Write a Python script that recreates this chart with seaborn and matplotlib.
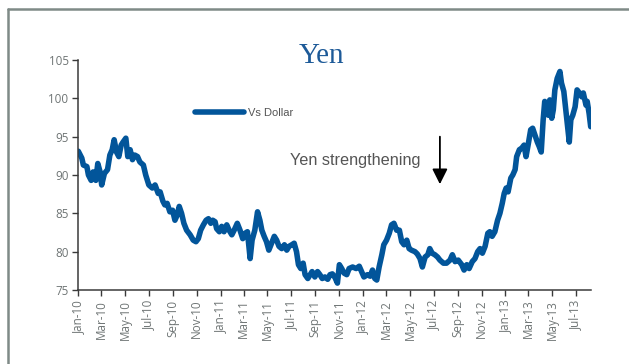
import matplotlib
matplotlib.use("Agg")
import matplotlib.pyplot as plt
import matplotlib.dates as mdates
from matplotlib.lines import Line2D
import pandas as pd
import seaborn as sns

# USD/JPY, yen per dollar
dates = [
    "2010-01-01", "2010-01-10", "2010-01-14", "2010-01-23", "2010-01-27", "2010-02-03",
    "2010-02-08", "2010-02-15", "2010-02-20", "2010-02-26", "2010-03-02", "2010-03-09",
    "2010-03-17", "2010-03-23", "2010-03-29", "2010-04-03", "2010-04-09", "2010-04-15",
    "2010-04-21", "2010-04-26", "2010-05-03", "2010-05-08", "2010-05-14", "2010-05-20",
    "2010-05-26", "2010-06-02", "2010-06-08", "2010-06-17", "2010-06-23", "2010-07-01",
    "2010-07-10", "2010-07-17", "2010-07-25", "2010-07-30", "2010-08-06", "2010-08-11",
    "2010-08-17", "2010-08-24", "2010-08-31", "2010-09-06", "2010-09-12", "2010-09-17",
    "2010-09-23", "2010-09-29", "2010-10-06", "2010-10-15", "2010-10-23", "2010-10-30",
    "2010-11-05", "2010-11-11", "2010-11-18", "2010-11-25", "2010-12-01", "2010-12-07",
    "2010-12-12", "2010-12-18", "2010-12-22", "2010-12-29", "2011-01-04", "2011-01-10",
    "2011-01-17", "2011-01-23", "2011-01-30", "2011-02-05", "2011-02-13", "2011-02-20",
    "2011-02-27", "2011-03-05", "2011-03-11", "2011-03-18", "2011-03-23", "2011-03-30",
    "2011-04-06", "2011-04-12", "2011-04-17", "2011-04-23", "2011-04-29", "2011-05-05",
    "2011-05-12", "2011-05-19", "2011-05-25", "2011-05-31", "2011-06-07", "2011-06-14",
    "2011-06-20", "2011-06-26", "2011-07-03", "2011-07-09", "2011-07-15", "2011-07-20",
    "2011-07-26", "2011-08-01", "2011-08-06", "2011-08-13", "2011-08-19", "2011-08-24",
    "2011-08-31", "2011-09-07", "2011-09-13", "2011-09-19", "2011-09-26", "2011-10-03",
    "2011-10-09", "2011-10-15", "2011-10-22", "2011-10-28", "2011-11-02", "2011-11-08",
    "2011-11-14", "2011-11-21", "2011-11-27", "2011-12-06", "2011-12-15", "2011-12-23",
    "2011-12-29", "2012-01-04", "2012-01-13", "2012-01-20", "2012-01-26", "2012-02-01",
    "2012-02-06", "2012-02-12", "2012-02-19", "2012-02-24", "2012-03-02", "2012-03-09",
    "2012-03-15", "2012-03-21", "2012-03-28", "2012-04-04", "2012-04-10", "2012-04-16",
    "2012-04-23", "2012-04-29", "2012-05-05", "2012-05-14", "2012-05-20", "2012-05-27",
    "2012-06-02", "2012-06-09", "2012-06-16", "2012-06-21", "2012-06-27", "2012-07-04",
    "2012-07-11", "2012-07-17", "2012-07-26", "2012-08-03", "2012-08-12", "2012-08-18",
    "2012-08-25", "2012-09-02", "2012-09-11", "2012-09-17", "2012-09-24", "2012-09-30",
    "2012-10-08", "2012-10-15", "2012-10-22", "2012-10-28", "2012-11-03", "2012-11-10",
    "2012-11-17", "2012-11-22", "2012-11-28", "2012-12-05", "2012-12-12", "2012-12-18",
    "2012-12-24", "2012-12-29", "2013-01-03", "2013-01-08", "2013-01-15", "2013-01-20",
    "2013-01-26", "2013-01-30", "2013-02-06", "2013-02-12", "2013-02-18", "2013-02-23",
    "2013-03-01", "2013-03-07", "2013-03-12", "2013-03-18", "2013-03-24", "2013-03-29",
    "2013-04-03", "2013-04-08", "2013-04-12", "2013-04-17", "2013-04-21", "2013-04-25",
    "2013-04-30", "2013-05-04", "2013-05-08", "2013-05-14", "2013-05-21", "2013-05-25",
    "2013-05-31", "2013-06-05", "2013-06-09", "2013-06-14", "2013-06-18", "2013-06-23",
    "2013-06-29", "2013-07-04", "2013-07-10", "2013-07-16", "2013-07-20", "2013-07-27",
    "2013-07-30", "2013-08-04", "2013-08-08",
]

usdjpy = [
    93.1, 92.2, 91.3, 91.1, 90.0, 89.3,
    90.4, 89.3, 91.5, 90.4, 88.7, 90.2,
    90.7, 92.6, 93.3, 94.6, 93.0, 92.4,
    93.9, 94.3, 94.8, 92.4, 93.3, 92.0,
    92.6, 92.4, 91.7, 91.3, 90.0, 88.7,
    88.3, 88.7, 87.6, 87.8, 86.6, 86.1,
    86.3, 85.2, 85.4, 84.1, 84.8, 85.9,
    85.0, 83.7, 82.8, 82.2, 81.5, 81.3,
    81.7, 82.8, 83.5, 84.1, 84.3, 83.7,
    84.1, 83.9, 83.0, 82.6, 83.3, 82.6,
    83.5, 82.8, 82.2, 82.8, 83.7, 82.8,
    81.7, 82.4, 82.6, 79.1, 81.5, 82.8,
    85.2, 84.1, 82.8, 82.0, 81.3, 80.2,
    81.1, 82.0, 81.5, 80.7, 80.4, 80.9,
    80.2, 80.7, 80.9, 81.1, 80.0, 78.3,
    77.8, 78.5, 77.0, 76.5, 77.0, 77.4,
    76.7, 77.4, 77.0, 76.5, 76.7, 76.4,
    77.0, 77.1, 76.6, 75.9, 78.3, 77.8,
    77.2, 77.0, 77.8, 78.0, 77.8, 78.1,
    77.4, 76.7, 77.0, 76.8, 77.6, 76.5,
    76.3, 78.0, 79.6, 80.9, 81.5, 82.4,
    83.5, 83.7, 82.8, 82.8, 81.3, 80.9,
    81.5, 80.4, 80.2, 80.0, 79.7, 79.1,
    78.0, 79.3, 79.6, 80.4, 79.8, 79.6,
    79.3, 78.9, 78.5, 78.5, 78.9, 79.6,
    78.7, 78.9, 78.3, 77.6, 78.3, 77.8,
    78.7, 79.1, 80.0, 80.4, 79.8, 80.7,
    82.4, 82.6, 82.0, 82.6, 84.1, 85.0,
    86.3, 87.6, 88.3, 87.8, 89.6, 90.0,
    90.7, 92.4, 93.3, 93.5, 93.9, 92.4,
    94.1, 95.9, 96.1, 95.2, 94.3, 93.7,
    93.0, 97.2, 99.6, 99.3, 97.8, 99.8,
    97.4, 98.5, 101.1, 102.6, 103.5, 102.0,
    100.9, 98.5, 96.7, 94.3, 97.2, 97.8,
    98.9, 101.1, 100.7, 100.2, 100.7, 99.1,
    99.6, 98.0, 96.3,
]

y_ticks = [75, 80, 85, 90, 95, 100, 105]
series_label = "Vs Dollar"
title_text = "Yen"
note_text = "Yen strengthening"
arrow_date = "2012-07-17"
arrow_from, arrow_to = 95.0, 88.8

df = pd.DataFrame({"date": pd.to_datetime(dates), "value": usdjpy})

sns.set_theme(style="white")
plt.rcParams["font.family"] = ["Open Sans", "DejaVu Sans"]

W, H = 629, 364
fig = plt.figure(figsize=(W / 100, H / 100), dpi=100)
fig.patch.set_facecolor("white")
ax = fig.add_axes([78.3 / W, 1 - 290 / H, (590.7 - 78.3) / W, (290 - 60) / H])

line_color = "#02559a"
sns.lineplot(data=df, x="date", y="value", ax=ax, color=line_color,
             linewidth=4.0, label=series_label, solid_capstyle="round",
             solid_joinstyle="round")

ax.set_xlim(df["date"].iloc[0], df["date"].iloc[-1])
ax.set_ylim(y_ticks[0], y_ticks[-1])
ax.set_yticks(y_ticks)
ax.xaxis.set_major_locator(mdates.MonthLocator(bymonth=[1, 3, 5, 7, 9, 11]))
ax.xaxis.set_major_formatter(mdates.DateFormatter("%b-%y"))
ax.set_xlabel("")
ax.set_ylabel("")

for side in ("top", "right"):
    ax.spines[side].set_visible(False)
for side in ("left", "bottom"):
    ax.spines[side].set_color("#3a3a3a")
    ax.spines[side].set_linewidth(1.1)

tick_color = "#6f7575"
ax.tick_params(axis="both", direction="out", length=4, width=1, color="#3a3a3a",
               labelcolor=tick_color, labelsize=8.4, pad=3,
               left=True, bottom=True)
for lab in ax.get_xticklabels():
    lab.set_rotation(90)

# legend placed in the upper-left blank area
leg = ax.legend(loc="center left", bbox_to_anchor=(195 / W, 1 - 113 / H),
                bbox_transform=fig.transFigure, frameon=False, borderpad=0,
                borderaxespad=0, handlelength=4.4, handletextpad=0.4,
                prop={"family": ["Liberation Sans"], "size": 8})
for t in leg.get_texts():
    t.set_color("#555555")

fig.text(321.5 / W, 1 - 63 / H, title_text, ha="center", va="baseline",
         family=["Liberation Serif"], fontsize=21, color="#1d5a98")

fig.text(290 / W, 1 - 165 / H, note_text, ha="left", va="baseline",
         family=["Liberation Sans"], fontsize=11.7, color="#555555")

ax.annotate("", xy=(pd.Timestamp(arrow_date), arrow_to),
            xytext=(pd.Timestamp(arrow_date), arrow_from),
            arrowprops=dict(arrowstyle="-|>", color="black", lw=1.3,
                            mutation_scale=23, shrinkA=0, shrinkB=0))

# panel frame along the top and left edges
frame_color = "#7f8a87"
fig.add_artist(Line2D([7.5 / W, 1], [1 - 9 / H, 1 - 9 / H], color=frame_color,
                      linewidth=1.8, transform=fig.transFigure))
fig.add_artist(Line2D([7.5 / W, 7.5 / W], [0, 1 - 9 / H], color=frame_color,
                      linewidth=1.8, transform=fig.transFigure))

fig.savefig("out.png", dpi=100, facecolor="white")
